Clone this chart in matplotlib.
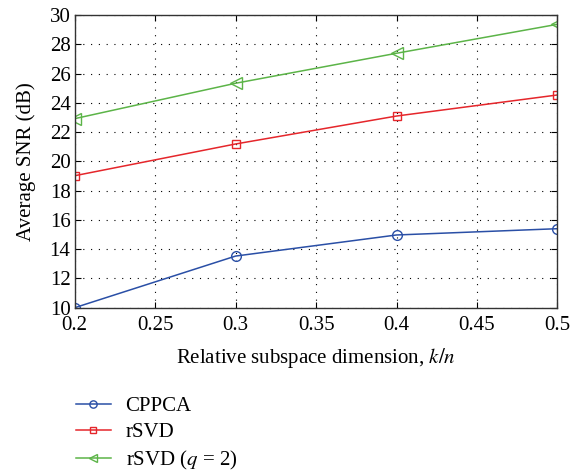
import matplotlib
matplotlib.use("Agg")
import matplotlib.pyplot as plt

plt.rcParams['font.family'] = ['Liberation Serif', 'DejaVu Serif']
plt.rcParams['mathtext.fontset'] = 'stix'

k_over_n = [0.2, 0.3, 0.4, 0.5]
snr_cppca = [10.0, 13.53, 14.97, 15.4]
snr_rsvd = [19.02, 21.19, 23.1, 24.54]
snr_rsvd_q2 = [22.92, 25.34, 27.39, 29.37]

x_ticks = [0.2, 0.25, 0.3, 0.35, 0.4, 0.45, 0.5]
x_tick_labels = ['0.2', '0.25', '0.3', '0.35', '0.4', '0.45', '0.5']
y_ticks = [10, 12, 14, 16, 18, 20, 22, 24, 26, 28, 30]

fig = plt.figure(figsize=(5.7, 4.71), dpi=100)
ax = fig.add_axes([0.131, 0.3467, 0.847, 0.6213])

ax.plot(k_over_n, snr_cppca, color='#2a4fa6', marker='o', markersize=7,
        markerfacecolor='none', markeredgewidth=1.0, linewidth=1.1, label='CPPCA')
ax.plot(k_over_n, snr_rsvd, color='#e5262b', marker='s', markersize=6,
        markerfacecolor='none', markeredgewidth=1.0, linewidth=1.1, label='rSVD')
ax.plot(k_over_n, snr_rsvd_q2, color='#5cb448', marker='<', markersize=8,
        markerfacecolor='none', markeredgewidth=1.0, linewidth=1.1,
        label=r'rSVD ($q$ = 2)')

ax.set_xlim(0.2, 0.5)
ax.set_ylim(10, 30)
ax.set_xticks(x_ticks)
ax.set_xticklabels(x_tick_labels)
ax.set_yticks(y_ticks)
ax.tick_params(direction='in', labelsize=15, length=4, top=True, right=True,
               pad=3)
ax.tick_params(axis='x', pad=6)
ax.grid(True, color='black', linestyle=(0, (1, 6)), linewidth=0.8)
for s in ax.spines.values():
    s.set_linewidth(1.0)
    s.set_color('#333333')

ax.set_xlabel(r'Relative subspace dimension, $k/n$', fontsize=15, labelpad=8)
ax.set_ylabel('Average SNR (dB)', fontsize=15, labelpad=10)

fig.legend(loc='upper left', bbox_to_anchor=(0.118, 0.176), frameon=False,
           fontsize=15, handlelength=1.7, handletextpad=0.7, labelspacing=0.32,
           borderaxespad=0, markerscale=0.75)

fig.savefig('out.png', dpi=100)
